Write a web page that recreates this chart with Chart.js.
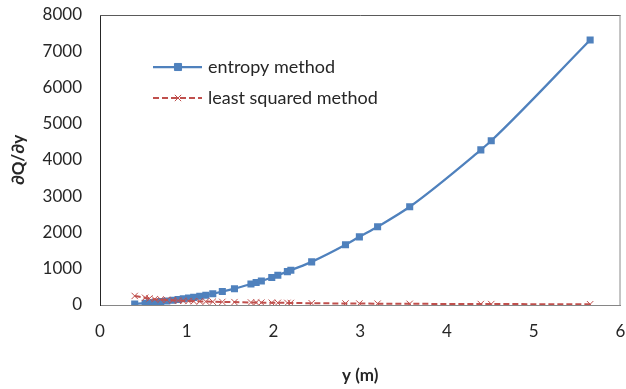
<!DOCTYPE html>
<html>
<head>
<meta charset="utf-8">
<script src="https://cdn.jsdelivr.net/npm/chart.js@4/dist/chart.umd.min.js"></script>
<style>
html,body{margin:0;padding:0;background:#fff;overflow:hidden;}
#wrap{width:626px;height:389px;position:relative;}
</style>
</head>
<body>
<div id="wrap"><canvas id="c" width="626" height="389"></canvas></div>
<script>
// depth y (m)
const depths = [0.40, 0.52, 0.57, 0.63, 0.70, 0.77, 0.84, 0.90, 0.96, 1.02, 1.08, 1.15, 1.22, 1.30, 1.41, 1.55, 1.74, 1.80, 1.86, 1.98, 2.05, 2.16, 2.20, 2.44, 2.83, 2.99, 3.20, 3.57, 4.39, 4.51, 5.65];
const entropyValues = [30, 50, 60, 75, 95, 110, 130, 150, 170, 190, 210, 240, 270, 310, 370, 450, 580, 620, 660, 760, 820, 920, 960, 1190, 1660, 1880, 2160, 2710, 4280, 4530, 7310];
const leastSquaredValues = [250, 200, 180, 160, 150, 140, 130, 120, 115, 110, 105, 100, 95, 90, 85, 80, 70, 68, 66, 62, 60, 58, 56, 50, 42, 40, 37, 33, 27, 26, 21];
const seriesNames = ["entropy method", "least squared method"];
const xTicks = [0, 1, 2, 3, 4, 5, 6];
const yTicks = [0, 1000, 2000, 3000, 4000, 5000, 6000, 7000, 8000];
const xTitle = "y (m)";
const yTitle = "\u2202Q/\u2202y";

const FONT = "Lato, 'Open Sans', sans-serif";
const BLUE = "#4F81BD";
const RED = "#C0504D";
const TXT = "#262626";

const toPts = (xs, ys) => xs.map((x, i) => ({x: x, y: ys[i]}));

const frame = {
  id: 'frame',
  afterDraw(chart) {
    const {ctx, chartArea: a} = chart;
    ctx.save();
    ctx.lineWidth = 1;
    ctx.strokeStyle = '#5a5a5a';
    ctx.beginPath(); ctx.moveTo(a.left, a.top + 0.5); ctx.lineTo(a.right, a.top + 0.5); ctx.stroke();
    ctx.strokeStyle = '#8a8a8a';
    ctx.beginPath(); ctx.moveTo(a.right - 0.5, a.top); ctx.lineTo(a.right - 0.5, a.bottom); ctx.stroke();
    ctx.restore();
  }
};

const legendIn = {
  id: 'legendIn',
  afterDraw(chart) {
    const {ctx} = chart;
    const rows = [{y: 67, ds: chart.data.datasets[0]}, {y: 98, ds: chart.data.datasets[1]}];
    ctx.save();
    rows.forEach(r => {
      const ds = r.ds;
      ctx.strokeStyle = ds.borderColor;
      ctx.lineWidth = ds.borderWidth;
      ctx.setLineDash(ds.borderDash || []);
      ctx.beginPath(); ctx.moveTo(153, r.y); ctx.lineTo(202, r.y); ctx.stroke();
      ctx.setLineDash([]);
      ctx.fillStyle = ds.pointBackgroundColor || ds.borderColor;
      ctx.strokeStyle = ds.pointBorderColor || ds.borderColor;
      ctx.lineWidth = ds.pointBorderWidth || 1;
      Chart.helpers.drawPoint(ctx, {pointStyle: ds.pointStyle, radius: ds.pointRadius, borderWidth: ds.pointBorderWidth || 1, rotation: 0}, 178, r.y);
      ctx.fillStyle = TXT;
      ctx.font = "18px " + FONT;
      ctx.textBaseline = 'middle';
      ctx.textAlign = 'left';
      ctx.fillText(ds.label, 208, r.y);
    });
    ctx.restore();
  }
};

new Chart(document.getElementById('c'), {
  type: 'line',
  data: {
    datasets: [
      {
        label: seriesNames[0],
        data: toPts(depths, entropyValues),
        borderColor: BLUE, backgroundColor: BLUE,
        borderWidth: 2.25,
        pointStyle: 'rect', pointRadius: 5, pointBorderWidth: 0,
        pointBackgroundColor: BLUE, pointBorderColor: BLUE,
        tension: 0.4, cubicInterpolationMode: 'monotone',
        fill: false, order: 2
      },
      {
        label: seriesNames[1],
        data: toPts(depths, leastSquaredValues),
        borderColor: RED, backgroundColor: RED,
        borderWidth: 2, borderDash: [6, 3],
        pointStyle: 'crossRot', pointRadius: 4.5, pointBorderWidth: 1,
        pointBorderColor: RED,
        tension: 0.4, cubicInterpolationMode: 'monotone',
        fill: false, order: 1
      }
    ]
  },
  options: {
    responsive: false,
    animation: false,
    devicePixelRatio: 1,
    layout: {padding: {top: 15, right: 2, left: 0, bottom: 0}},
    plugins: {legend: {display: false}, tooltip: {enabled: false}},
    scales: {
      x: {
        type: 'linear', min: 0, max: 6,
        afterFit(s) { s.height = 84; s.paddingLeft = 0; s.paddingRight = 0; },
        afterBuildTicks(s) { s.ticks = xTicks.map(v => ({value: v})); },
        grid: {display: false, drawTicks: false},
        border: {display: true, color: '#868686', width: 1},
        ticks: {color: TXT, font: {family: FONT, size: 17}, padding: 16, maxRotation: 0,
          callback: v => String(v)},
        title: {display: true, text: xTitle, color: TXT, font: {family: FONT, size: 17, weight: 'bold'}, padding: {top: 0, bottom: 3}}
      },
      y: {
        type: 'linear', min: 0, max: 8000,
        afterFit(s) { s.width = 100; s.paddingTop = 0; s.paddingBottom = 0; },
        afterBuildTicks(s) { s.ticks = yTicks.map(v => ({value: v})); },
        grid: {display: false, drawTicks: false},
        border: {display: true, color: TXT, width: 1},
        ticks: {color: TXT, font: {family: FONT, size: 17}, padding: 18,
          callback: v => String(v)},
        title: {display: true, text: yTitle, color: TXT, font: {family: FONT, size: 17, weight: 'bold'}, padding: {top: 8, bottom: 0}}
      }
    }
  },
  plugins: [frame, legendIn]
});
</script>
</body>
</html>
